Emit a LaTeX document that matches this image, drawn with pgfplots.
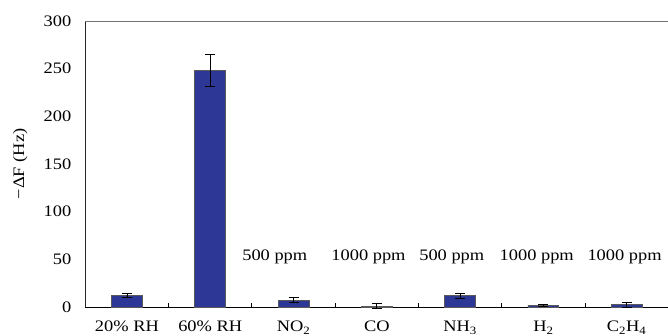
\documentclass[border=0pt]{standalone}
\usepackage{fontspec}
\setmainfont[FakeStretch=1.15]{Liberation Serif}
\usepackage{pgfplots}
\pgfplotsset{compat=1.18}
\definecolor{barblue}{RGB}{45,56,150}
\begin{document}
\fontsize{16}{19}\selectfont
\begin{tikzpicture}
\begin{axis}[
  at={(0,0)}, anchor=south west,
  scale only axis, width=583pt, height=286pt,
  xmin=-0.5, xmax=6.5, ymin=0, ymax=300,
  axis x line*=bottom, axis y line*=left,
  x axis line style={black, line width=0.9pt, -},
  y axis line style={black!85, line width=0.9pt, -},
  xtick={0,...,6},
  xticklabels={20\% RH, 60\% RH, NO\textsubscript{2}, CO, NH\textsubscript{3}, H\textsubscript{2}, C\textsubscript{2}H\textsubscript{4}},
  ytick={0,50,...,300},
  major tick length=0pt,
  extra x ticks={0.5,1.5,2.5,3.5,4.5,5.5},
  extra x tick labels={},
  extra x tick style={major tick length=4pt, tick align=inside, tick style={black, line width=0.8pt}},
  xticklabel style={anchor=base, yshift=-25pt},
  yticklabel style={xshift=-8.5pt},
  /pgf/number format/assume math mode=true,
  ylabel={−ΔF (Hz)},
  ylabel style={at={(axis description cs:-0.1115,0.5)}, anchor=center},
  ybar, bar width=0.37,
  clip=false,
]
\addplot[fill=barblue, draw=black!65, line width=0.8pt,
  error bars/.cd, y dir=both, y explicit,
  error bar style={black, line width=0.7pt},
  error mark options={rotate=90, mark size=5pt, black, line width=0.7pt}]
  coordinates {
  (0,12) +- (0,1.8)
  (1,248.5) +- (0,17)
  (2,7.2) +- (0,2.4)
  (3,1) +- (0,2.5)
  (4,12) +- (0,2.7)
  (5,2) +- (0,1.2)
  (6,2.2) +- (0,2.6)
  };
\draw[black!55, line width=0.9pt] (rel axis cs:0,1) -- (rel axis cs:1,1);
\node[anchor=base] at (axis cs:1.775,48.3) {500 ppm};
\node[anchor=base] at (axis cs:2.90,48.3) {1000 ppm};
\node[anchor=base] at (axis cs:3.90,48.3) {500 ppm};
\node[anchor=base] at (axis cs:4.92,48.3) {1000 ppm};
\node[anchor=base] at (axis cs:5.975,48.3) {1000 ppm};
\end{axis}
\pgfresetboundingbox
\path[use as bounding box] (-85.3pt,-29pt) rectangle (582.7pt,307pt);
\end{tikzpicture}
\end{document}
